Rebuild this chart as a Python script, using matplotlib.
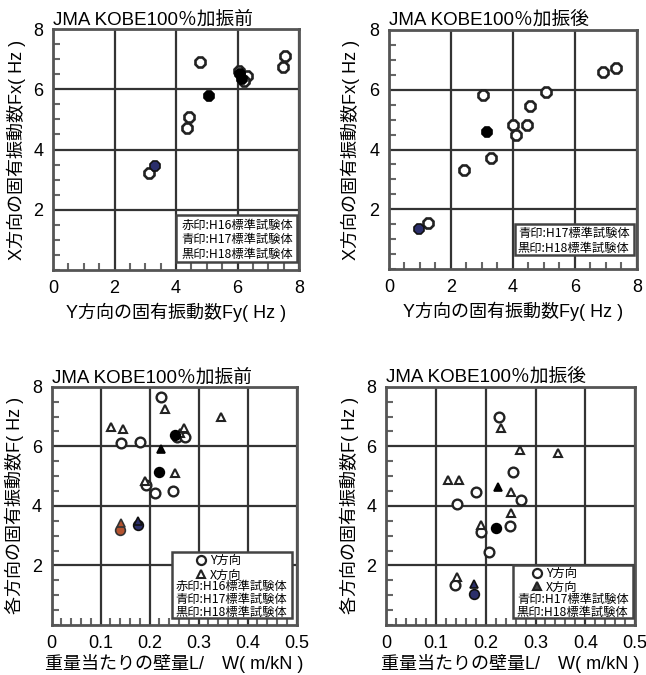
import numpy as np
import matplotlib
matplotlib.use("Agg")
import matplotlib.pyplot as plt
from matplotlib.patches import Rectangle
from matplotlib.ticker import MultipleLocator

plt.rcParams['font.family'] = ['Liberation Sans', 'Noto Sans CJK JP']

# ---- data ----
# top left: before excitation, Fy vs Fx (Hz)
a_open_fy = [4.78, 7.54, 7.49, 6.30, 6.20, 6.05, 4.43, 4.35, 3.13]
a_open_fx = [6.92, 7.11, 6.74, 6.45, 6.28, 6.60, 5.09, 4.71, 3.23]
a_black_fy = [6.08, 6.13, 5.07]
a_black_fx = [6.50, 6.35, 5.78]
a_blue_fy = [3.32]
a_blue_fx = [3.46]

# top right: after excitation
b_open_fy = [6.90, 7.34, 3.03, 5.08, 4.54, 4.00, 4.45, 4.11, 3.30, 2.41, 1.26]
b_open_fx = [6.60, 6.71, 5.82, 5.93, 5.45, 4.82, 4.82, 4.48, 3.70, 3.31, 1.55]
b_black_fy = [3.17]
b_black_fx = [4.59]
b_blue_fy = [0.97]
b_blue_fx = [1.33]

# bottom left: before, wall ratio L/W vs frequency
c_y_lw = [0.224, 0.141, 0.180, 0.255, 0.272, 0.193, 0.210, 0.248]
c_y_f = [7.65, 6.12, 6.16, 6.32, 6.30, 4.71, 4.43, 4.49]
c_x_lw = [0.231, 0.346, 0.122, 0.146, 0.262, 0.270, 0.251, 0.190]
c_x_f = [7.25, 6.97, 6.65, 6.58, 6.45, 6.62, 5.12, 4.85]
c_black_y_lw, c_black_y_f = [0.220, 0.252], [5.15, 6.38]
c_black_x_lw, c_black_x_f = [0.224], [5.90]
c_red_y_lw, c_red_y_f = [0.139], [3.20]
c_red_x_lw, c_red_x_f = [0.142], [3.42]
c_blue_y_lw, c_blue_y_f = [0.176], [3.36]
c_blue_x_lw, c_blue_x_f = [0.176], [3.50]

# bottom right: after
d_y_lw = [0.227, 0.254, 0.180, 0.271, 0.142, 0.190, 0.248, 0.207, 0.138]
d_y_f = [7.00, 5.15, 4.48, 4.20, 4.07, 3.14, 3.33, 2.46, 1.35]
d_x_lw = [0.231, 0.268, 0.345, 0.125, 0.146, 0.251, 0.251, 0.190, 0.142]
d_x_f = [6.61, 5.88, 5.77, 4.87, 4.87, 4.48, 3.75, 3.35, 1.60]
d_black_y_lw, d_black_y_f = [0.220], [3.25]
d_black_x_lw, d_black_x_f = [0.224], [4.63]
d_blue_y_lw, d_blue_y_f = [0.176], [1.05]
d_blue_x_lw, d_blue_x_f = [0.176], [1.38]

title_before = "JMA KOBE100％加振前"
title_after = "JMA KOBE100％加振後"
xlab_top = "Y方向の固有振動数Fy( Hz )"
ylab_top = "X方向の固有振動数Fx( Hz )"
xlab_bot = "重量当たりの壁量L/　W( m/kN )"
ylab_bot = "各方向の固有振動数F( Hz )"
leg_h16 = "赤印:H16標準試験体"
leg_h17 = "青印:H17標準試験体"
leg_h18 = "黒印:H18標準試験体"

BLUE = '#2b2f6b'
RED = '#b4532f'
GRID = '#333333'


def style_axes(ax, xmax, xmajor, xminor, yminor, xticklabels):
    ax.set_xlim(0, xmax)
    ax.set_ylim(0, 8)
    ax.xaxis.set_minor_locator(MultipleLocator(xminor))
    ax.yaxis.set_minor_locator(MultipleLocator(yminor))
    ax.set_xticks(np.arange(0, xmax + xmajor / 2, xmajor))
    ax.set_xticklabels(xticklabels)
    ax.set_yticks([2, 4, 6, 8])
    ax.grid(True, which='major', color=GRID, lw=1.6)
    ax.tick_params(which='major', length=0, labelsize=13, pad=7)
    ax.tick_params(which='minor', direction='in', length=5, width=1.5, color='#666666')
    for s in ax.spines.values():
        s.set_linewidth(2.0)
        s.set_color('#555555')
    ax.set_axisbelow(True)


def legend_box(ax, box):
    x0, y0, x1, y1 = box
    ax.add_patch(Rectangle((x0, y0), x1 - x0, y1 - y0, transform=ax.transAxes,
                           fc='white', ec='#444444', lw=1.8, zorder=5))


def legend_text(ax, x, y, lines, spacing=1.0):
    # one multi-line block, vertically centred on y
    ax.text(x, y, "\n".join(lines), transform=ax.transAxes, fontsize=8.8,
            va='center', ha='left', linespacing=spacing,
            family=['Noto Sans CJK JP'], zorder=6)


fig = plt.figure(figsize=(6.46, 6.75), dpi=100)
ax1 = fig.add_axes([0.082, 0.600, 0.381, 0.357])
ax2 = fig.add_axes([0.602, 0.601, 0.384, 0.355])
ax3 = fig.add_axes([0.080, 0.074, 0.379, 0.353])
ax4 = fig.add_axes([0.598, 0.074, 0.385, 0.353])

open_kw = dict(ls='none', marker='8', ms=8.5, mfc='white', mec='#222222', mew=1.9, zorder=3)
fill_kw = dict(ls='none', marker='8', ms=8.5, mew=1.2, zorder=4)

# ---- top left ----
ax1.plot(a_open_fy, a_open_fx, **open_kw)
ax1.plot(a_black_fy, a_black_fx, mfc='black', mec='black', **fill_kw)
ax1.plot(a_blue_fy, a_blue_fx, mfc=BLUE, mec='#111111', **fill_kw)

# ---- top right ----
ax2.plot(b_open_fy, b_open_fx, **open_kw)
ax2.plot(b_black_fy, b_black_fx, mfc='black', mec='black', **fill_kw)
ax2.plot(b_blue_fy, b_blue_fx, mfc=BLUE, mec='#111111', **fill_kw)

xt_top = ['0', '2', '4', '6', '8']
for ax, title in [(ax1, title_before), (ax2, title_after)]:
    style_axes(ax, 8, 2, 0.5, 0.5, xt_top)
    ax.set_title(title, loc='left', fontsize=13.5, pad=2)
    ax.set_xlabel(xlab_top, fontsize=13)
    ax.set_ylabel(ylab_top, fontsize=13)
ax1.xaxis.set_label_coords(0.5, -0.135)
ax2.xaxis.set_label_coords(0.5, -0.135)
ax1.yaxis.set_label_coords(-0.11, 0.5)
ax2.yaxis.set_label_coords(-0.117, 0.5)

legend_box(ax1, (0.50, 0.034, 0.99, 0.228))
legend_text(ax1, 0.523, 0.126, [leg_h16, leg_h17, leg_h18], spacing=1.15)
legend_box(ax2, (0.51, 0.059, 0.99, 0.191))
legend_text(ax2, 0.52, 0.12, [leg_h17, leg_h18], spacing=1.2)

# ---- bottom panels: Y direction = circle, X direction = triangle ----
y_kw = dict(ls='none', marker='o', ms=7, mfc='white', mec='#222222', mew=1.7, zorder=3)
x_kw = dict(ls='none', marker='^', ms=6, mfc='white', mec='#222222', mew=1.5, zorder=3)
yf_kw = dict(ls='none', marker='o', ms=7, mew=1.2, zorder=4)
xf_kw = dict(ls='none', marker='^', ms=6, mew=1.2, zorder=4)

ax3.plot(c_y_lw, c_y_f, **y_kw)
ax3.plot(c_x_lw, c_x_f, **x_kw)
ax3.plot(c_black_y_lw, c_black_y_f, mfc='black', mec='black', **yf_kw)
ax3.plot(c_black_x_lw, c_black_x_f, mfc='black', mec='black', **xf_kw)
ax3.plot(c_red_y_lw, c_red_y_f, mfc=RED, mec='#333333', **yf_kw)
ax3.plot(c_red_x_lw, c_red_x_f, mfc=RED, mec='#333333', **xf_kw)
ax3.plot(c_blue_y_lw, c_blue_y_f, mfc=BLUE, mec='#111111', **yf_kw)
ax3.plot(c_blue_x_lw, c_blue_x_f, mfc=BLUE, mec='#111111', **xf_kw)

ax4.plot(d_y_lw, d_y_f, **y_kw)
ax4.plot(d_x_lw, d_x_f, **x_kw)
ax4.plot(d_black_y_lw, d_black_y_f, mfc='black', mec='black', **yf_kw)
ax4.plot(d_black_x_lw, d_black_x_f, mfc='black', mec='black', **xf_kw)
ax4.plot(d_blue_y_lw, d_blue_y_f, mfc=BLUE, mec='#111111', **yf_kw)
ax4.plot(d_blue_x_lw, d_blue_x_f, mfc=BLUE, mec='#111111', **xf_kw)

xt_bot = ['0', '0.1', '0.2', '0.3', '0.4', '0.5']
for ax, title in [(ax3, title_before), (ax4, title_after)]:
    style_axes(ax, 0.5, 0.1, 0.02, 0.5, xt_bot)
    ax.set_title(title, loc='left', fontsize=13.5, pad=3)
    ax.set_xlabel(xlab_bot, fontsize=13)
    ax.set_ylabel(ylab_bot, fontsize=13)
    ax.xaxis.set_label_coords(0.5, -0.12)
ax3.yaxis.set_label_coords(-0.114, 0.5)
ax4.yaxis.set_label_coords(-0.108, 0.5)

legend_box(ax3, (0.49, 0.03, 0.98, 0.305))
legend_text(ax3, 0.645, 0.239, ["Y方向", "X方向"], spacing=1.2)
legend_text(ax3, 0.505, 0.107, [leg_h16, leg_h17, leg_h18])
ax3.plot([0.611], [0.272], transform=ax3.transAxes, marker='o', ms=6.5, mfc='white',
         mec='#222222', mew=1.6, zorder=7)
ax3.plot([0.611], [0.214], transform=ax3.transAxes, marker='^', ms=5.5, mfc='white',
         mec='#222222', mew=1.5, zorder=7)

legend_box(ax4, (0.51, 0.03, 0.99, 0.25))
legend_text(ax4, 0.641, 0.186, ["Y方向", "X方向"], spacing=1.1)
legend_text(ax4, 0.525, 0.080, [leg_h17, leg_h18])
ax4.plot([0.605], [0.218], transform=ax4.transAxes, marker='o', ms=6.5, mfc='white',
         mec='#222222', mew=1.6, zorder=7)
ax4.plot([0.605], [0.162], transform=ax4.transAxes, marker='^', ms=5.5, mfc='#444444',
         mec='#222222', mew=1.5, zorder=7)

fig.savefig("out.png", dpi=100)
plt.close(fig)
